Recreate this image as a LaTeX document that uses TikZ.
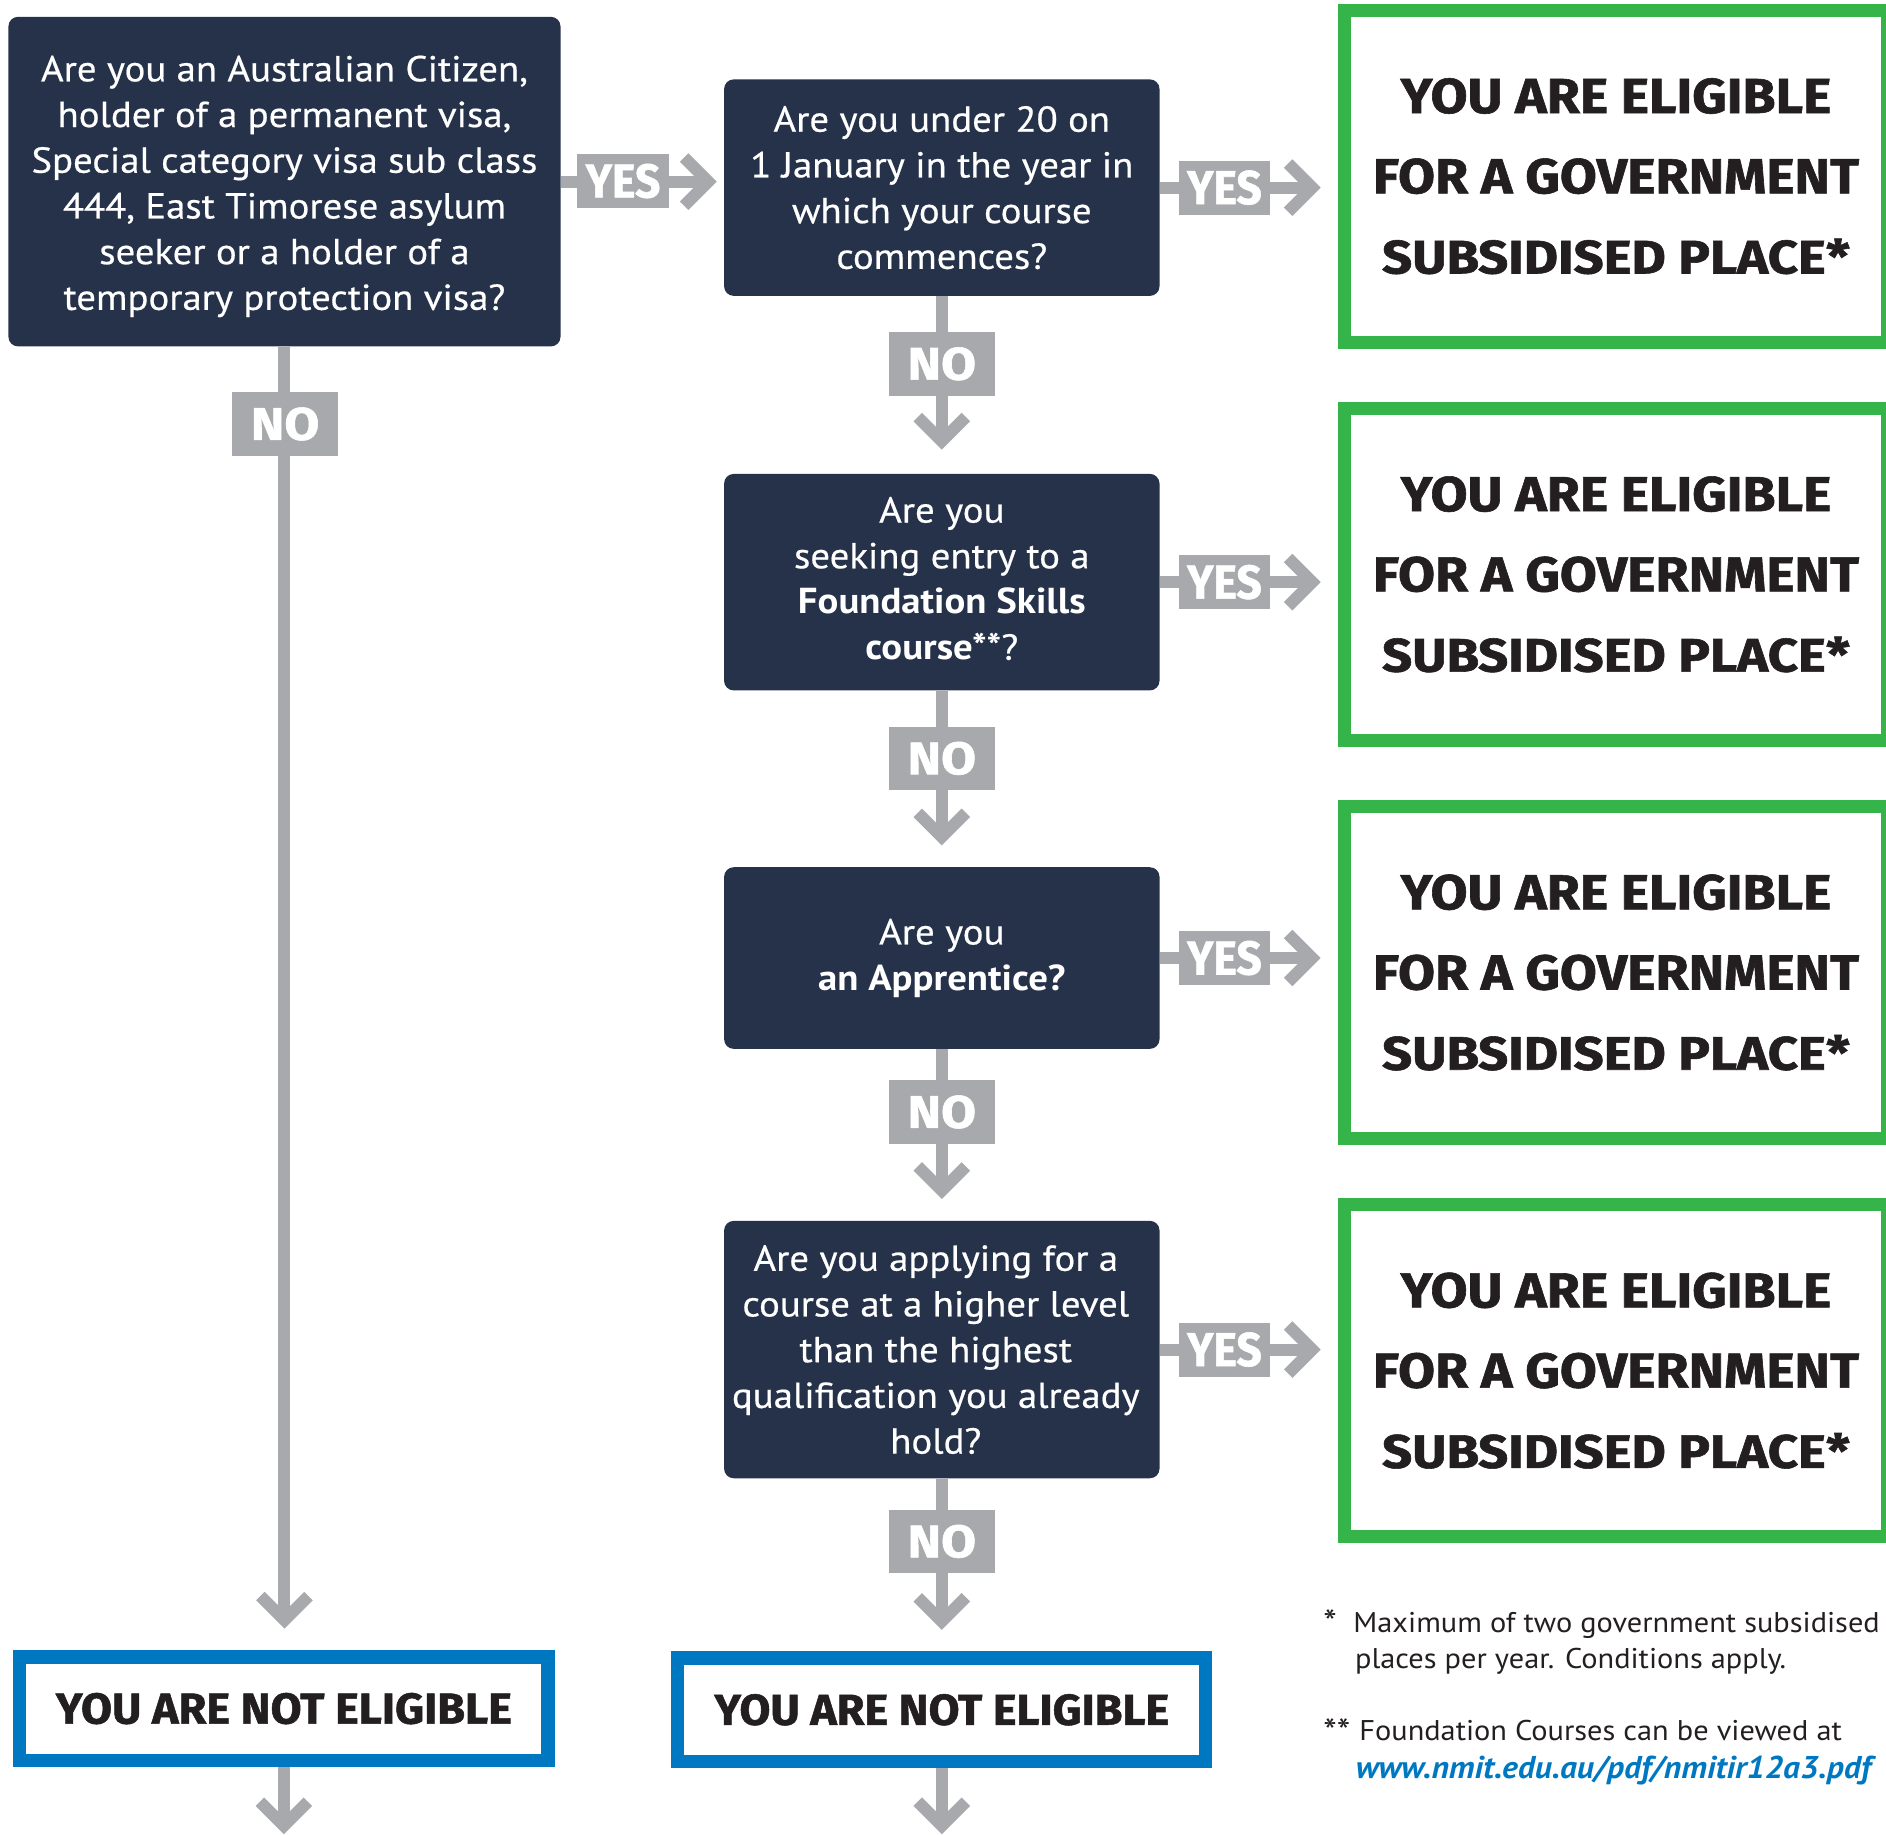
\documentclass[tikz,border=0pt]{standalone}
\usepackage{fontspec}
\setmainfont{PT Sans}[FakeStretch=1.065]
\newfontfamily\qfont{PT Sans}[FakeStretch=1.075, UprightFeatures={FakeBold=0.5}]
\newfontfamily\heavyfont{Fira Sans}[BoldFeatures={FakeBold=1.2}]
\usetikzlibrary{arrows.meta}
\definecolor{navy}{HTML}{25324A}
\definecolor{conngray}{HTML}{A7A9AC}
\definecolor{okgreen}{HTML}{35B449}
\definecolor{noblue}{HTML}{0078C1}
\definecolor{inkblack}{HTML}{231F20}
\newcommand{\hv}[3]{\resizebox{#1pt}{#2pt}{\heavyfont\bfseries #3}}
\tikzset{
  question/.style={fill=navy, rounded corners=8pt, inner sep=0pt},
  qtext/.style={text=white, align=center, inner sep=0pt,
    font=\qfont\fontsize{30}{38}\selectfont},
  eligible/.style={draw=okgreen, line width=11pt, fill=white, align=center, text=inkblack,
    font=\fontsize{10}{66.7}\selectfont, inner sep=0pt, minimum width=452pt, minimum height=276pt},
  noteligible/.style={draw=noblue, line width=11pt, fill=white, text=inkblack, inner sep=0pt,
    minimum width=439pt, minimum height=86pt},
  conn/.style={draw=conngray, line width=10pt, -{Straight Barb[length=20pt, sharp]}},
  yeslab/.style={fill=conngray, text=white, inner sep=0pt, minimum width=76pt, minimum height=45pt},
  nolab/.style={fill=conngray, text=white, inner sep=0pt, minimum width=88pt, minimum height=53pt},
  note/.style={text=inkblack, inner sep=0pt, anchor=base west, font=\fontsize{23.7}{30}\selectfont},
  star/.style={text=inkblack, inner sep=0pt, anchor=base west, font=\fontsize{30}{30}\selectfont},
}
\begin{document}
\begin{tikzpicture}[x=1pt, y=-1pt]
\useasboundingbox (0,0) rectangle (1568,1525);

% question boxes
\node[question, minimum width=459pt, minimum height=274pt] (q1) at (236.5,151) {};
\node[question, minimum width=362pt, minimum height=180pt] (q2) at (783,156) {};
\node[question, minimum width=362pt, minimum height=180pt] (q3) at (783,484) {};
\node[question, minimum width=362pt, minimum height=151pt] (q4) at (783,796.5) {};
\node[question, minimum width=362pt, minimum height=214pt] (q5) at (783,1122) {};

% question texts
\node[qtext, yshift=-4pt] (q1t) at (q1.center)
  {Are you an Australian Citizen,\\holder of a permanent visa,\\Special category visa sub class\\444, East Timorese asylum\\seeker or a holder of a\\temporary protection visa?};
\node[qtext] (q2t) at (q2.center)
  {Are you under 20 on\\1 January in the year in\\which your course\\commences?};
\node[qtext, yshift=3pt] (q3t) at (q3.center)
  {Are you\\seeking entry to a\\\textbf{Foundation Skills}\\\textbf{course**}?};
\node[qtext] (q4t) at (q4.center)
  {Are you\\\textbf{an Apprentice?}};
\node[qtext, xshift=-5pt] (q5t) at (q5.center)
  {Are you applying for a\\course at a higher level\\than the highest\\qualification you already\\hold?};

% eligible boxes
\node[eligible] (g1) at (1343.5,146.5)
  {\hv{358}{29}{YOU ARE ELIGIBLE}\\\hv{404}{29}{FOR A GOVERNMENT}\\\hv{389}{29}{SUBSIDISED PLACE*}};
\node[eligible] (g2) at (1343.5,477.5)
  {\hv{358}{29}{YOU ARE ELIGIBLE}\\\hv{404}{29}{FOR A GOVERNMENT}\\\hv{389}{29}{SUBSIDISED PLACE*}};
\node[eligible] (g3) at (1343.5,808.5)
  {\hv{358}{29}{YOU ARE ELIGIBLE}\\\hv{404}{29}{FOR A GOVERNMENT}\\\hv{389}{29}{SUBSIDISED PLACE*}};
\node[eligible] (g4) at (1343.5,1139.5)
  {\hv{358}{29}{YOU ARE ELIGIBLE}\\\hv{404}{29}{FOR A GOVERNMENT}\\\hv{389}{29}{SUBSIDISED PLACE*}};

% not eligible boxes
\node[noteligible] (ne1) at (236,1420.5) {\hv{379}{25.5}{YOU ARE NOT ELIGIBLE}};
\node[noteligible] (ne2) at (783,1421.5) {\hv{378}{25.5}{YOU ARE NOT ELIGIBLE}};
\coordinate (e1) at (236,1525);
\coordinate (e2) at (783,1525);

% connectors
\draw[conn, shorten >=6pt] (q1.east) -- (q1.east -| q2.west);
\draw[conn, shorten >=14pt] (q2.east) -- (q2.east -| g1.west);
\draw[conn, shorten >=14pt] (q3.east) -- (q3.east -| g2.west);
\draw[conn, shorten >=14pt] (q4.east) -- (q4.east -| g3.west);
\draw[conn, shorten >=14pt] (q5.east) -- (q5.east -| g4.west);
\draw[conn, shorten >=18pt] (q1.south) -- (q1.south |- ne1.north);
\draw[conn, shorten >=20pt] (q2.south) -- (q3.north);
\draw[conn, shorten >=18pt] (q3.south) -- (q4.north);
\draw[conn, shorten >=18pt] (q4.south) -- (q5.north);
\draw[conn, shorten >=18pt] (q5.south) -- (ne2.north);
\draw[conn] (ne1.south) -- (e1);
\draw[conn] (ne2.south) -- (e2);

% labels
\node[yeslab] (y1) at (518,150.5) {\hv{62}{28}{YES}};
\node[yeslab] (y2) at (1018,156) {\hv{62}{28}{YES}};
\node[yeslab] (y3) at (1018,484) {\hv{62}{28}{YES}};
\node[yeslab] (y4) at (1018,796.5) {\hv{62}{28}{YES}};
\node[yeslab] (y5) at (1018,1122) {\hv{62}{28}{YES}};
\node[nolab] (n1) at (237,352.5) {\hv{57}{27}{NO}};
\node[nolab] (n2) at (783,302.5) {\hv{57}{27}{NO}};
\node[nolab] (n3) at (783,630.5) {\hv{57}{27}{NO}};
\node[nolab] (n4) at (783,924.5) {\hv{57}{27}{NO}};
\node[nolab] (n5) at (783,1281.5) {\hv{57}{27}{NO}};

% footnotes
\node[star] (f1s) at (1100,1360) {*};
\node[note] (f1) at (1125,1357.6) {Maximum of two government subsidised};
\node[note] (f2) at (1126.4,1387.5) {places per year. Conditions apply.};
\node[star] (f3s) at (1100,1450) {**};
\node[note] (f3) at (1130,1447.3) {Foundation Courses can be viewed at};
\node[note, text=noblue, font=\fontsize{26.2}{30}\selectfont\bfseries\itshape] (f4) at (1127,1479) {www.nmit.edu.au/pdf/nmitir12a3.pdf};
\end{tikzpicture}
\end{document}
